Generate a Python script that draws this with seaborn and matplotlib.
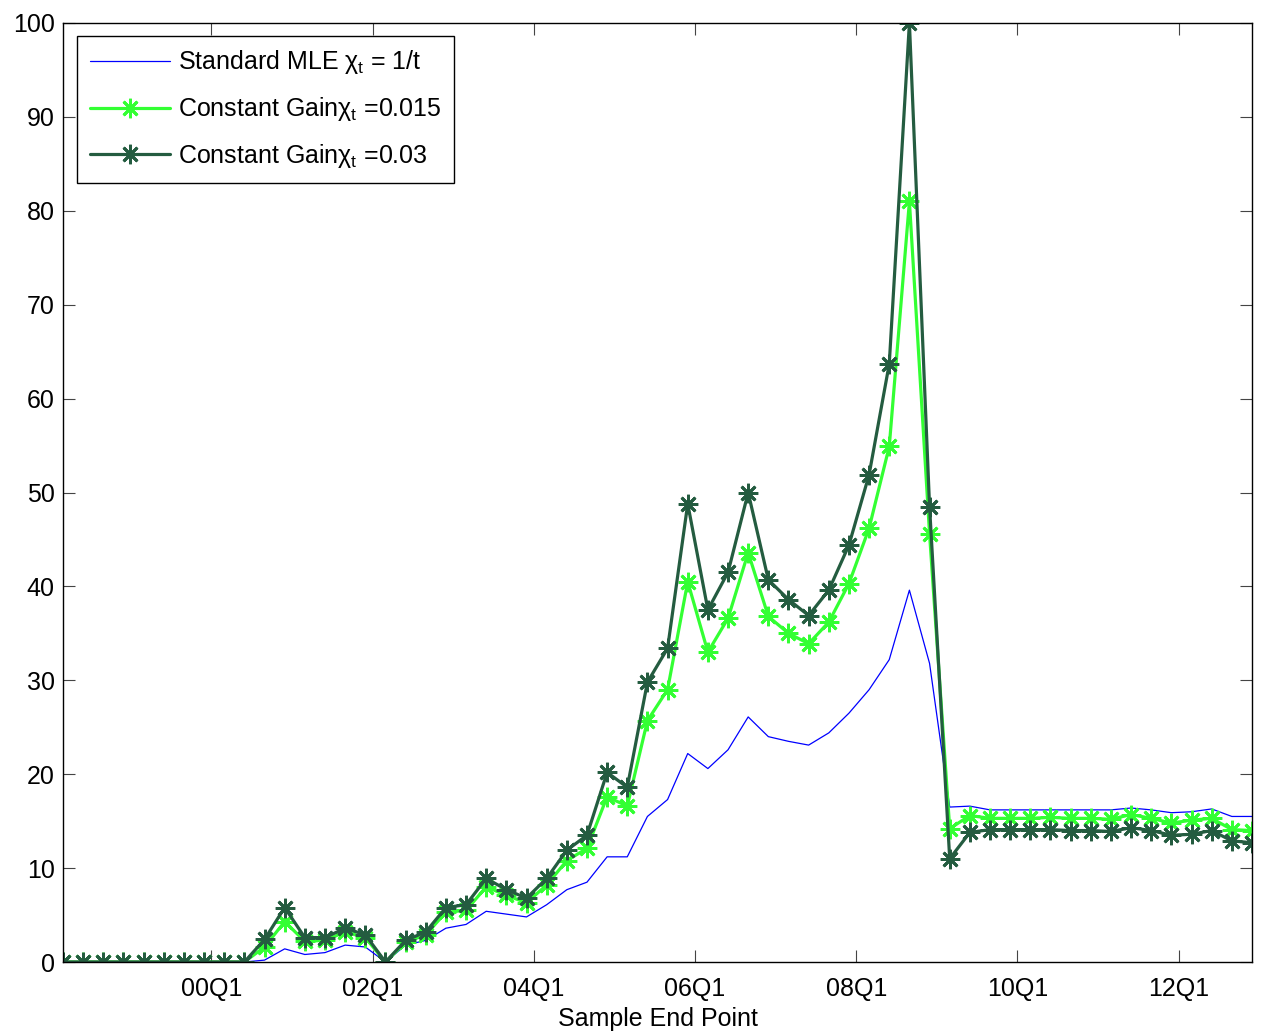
import numpy as np
import pandas as pd
import matplotlib
matplotlib.use("Agg")
import matplotlib.pyplot as plt
import seaborn as sns

# ---------------- data ----------------
mle = [0, 0, 0, 0, 0, 0, 0, 0, 0, 0,
       0.2, 1.4, 0.8, 1.0, 1.8, 1.6, 0, 1.8, 2.3, 3.6,
       4.0, 5.4, 5.1, 4.8, 6.1, 7.7, 8.5, 11.2, 11.2, 15.5,
       17.3, 22.2, 20.6, 22.6, 26.1, 24.0, 23.5, 23.1, 24.4, 26.5,
       29.0, 32.2, 39.6, 31.8, 16.5, 16.6, 16.2, 16.2, 16.2, 16.2,
       16.2, 16.2, 16.2, 16.4, 16.2, 15.9, 16.0, 16.3, 15.5, 15.5]

cg015 = [0, 0, 0, 0, 0, 0, 0, 0, 0, 0,
         1.6, 4.3, 2.2, 2.3, 3.2, 2.6, 0, 2.1, 2.9, 5.3,
         5.5, 8.0, 7.1, 6.3, 8.2, 10.8, 12.1, 17.6, 16.6, 25.7,
         29.0, 40.5, 33.0, 36.6, 43.6, 36.8, 35.0, 33.9, 36.2, 40.3,
         46.2, 54.9, 81.0, 45.6, 14.2, 15.6, 15.3, 15.3, 15.3, 15.4,
         15.3, 15.3, 15.2, 15.7, 15.3, 14.8, 15.1, 15.3, 14.1, 14.0]

cg03 = [0, 0, 0, 0, 0, 0, 0, 0, 0, 0,
        2.4, 5.8, 2.6, 2.6, 3.6, 2.9, 0, 2.3, 3.2, 5.8,
        6.1, 8.9, 7.7, 6.8, 8.9, 11.9, 13.5, 20.2, 18.6, 29.8,
        33.4, 48.8, 37.5, 41.5, 50.0, 40.7, 38.6, 36.9, 39.6, 44.4,
        51.9, 63.7, 100.0, 48.5, 11.0, 13.8, 14.1, 14.1, 14.1, 14.1,
        14.0, 14.0, 13.9, 14.3, 14.0, 13.5, 13.6, 14.0, 12.9, 12.7]

tick_labels = ["00Q1", "02Q1", "04Q1", "06Q1", "08Q1", "10Q1", "12Q1"]
yticks = [0, 10, 20, 30, 40, 50, 60, 70, 80, 90, 100]

labels = [r"Standard MLE $\chi_\mathrm{t}$ = 1/t",
          r"Constant Gain$\chi_\mathrm{t}$ =0.015",
          r"Constant Gain$\chi_\mathrm{t}$ =0.03"]

# ---------------- style ----------------
sns.set_theme(style="ticks")
plt.rcParams["font.family"] = ["Liberation Sans", "DejaVu Sans"]
plt.rcParams["mathtext.fontset"] = "custom"
plt.rcParams["mathtext.rm"] = "Liberation Sans"
plt.rcParams["mathtext.it"] = "Liberation Sans"
plt.rcParams["mathtext.fallback"] = "stixsans"
plt.rcParams["text.color"] = "black"
plt.rcParams["axes.labelcolor"] = "black"
plt.rcParams["axes.linewidth"] = 1.0

FS = 18
n = len(mle)
x = np.arange(n)
df = pd.DataFrame({"x": x, "mle": mle, "cg015": cg015, "cg03": cg03})

fig = plt.figure(figsize=(12.62, 10.32), dpi=100)
ax = fig.add_axes([63 / 1262, 1 - 962 / 1032, (1252 - 63) / 1262, (962 - 23) / 1032])

ast = (8, 2, 0)
sns.lineplot(data=df, x="x", y="mle", ax=ax, color="#0000ff", lw=0.9,
             label=labels[0])
sns.lineplot(data=df, x="x", y="cg015", ax=ax, color="#33ff33", lw=2.3,
             marker=ast, markersize=14, markeredgewidth=2.0,
             markeredgecolor="#33ff33", label=labels[1])
sns.lineplot(data=df, x="x", y="cg03", ax=ax, color="#245c40", lw=2.3,
             marker=ast, markersize=14, markeredgewidth=2.0,
             markeredgecolor="#245c40", label=labels[2])

ax.set_xlim(0, n - 1)
ax.set_ylim(0, 100)
tick_offset = 7.36
ax.set_xticks([tick_offset + 8 * k for k in range(len(tick_labels))])
ax.set_xticklabels(tick_labels)
ax.set_yticks(yticks)
ax.set_yticklabels([str(v) for v in yticks])

for s in ax.spines.values():
    s.set_visible(True)
    s.set_color("black")
    s.set_linewidth(1.0)

ax.tick_params(axis="both", which="major", direction="in", length=8.5,
               width=0.8, color="#444444", labelsize=FS, labelcolor="black",
               top=True, right=True)
ax.tick_params(axis="x", pad=11)
ax.tick_params(axis="y", pad=6)

ax.set_xlabel("Sample End Point", fontsize=FS, labelpad=4, color="black")
ax.set_ylabel("")

leg = ax.legend(loc="upper left", bbox_to_anchor=(14 / 1189, 1 - 13 / 939),
                borderaxespad=0, frameon=True, fancybox=False, shadow=False,
                fontsize=FS, numpoints=1, handlelength=3.2,
                handletextpad=0.35, labelspacing=0.75, borderpad=0.5)
leg.get_frame().set_edgecolor("black")
leg.get_frame().set_linewidth(1.0)
leg.get_frame().set_alpha(1)

fig.savefig("out.png", dpi=100)
